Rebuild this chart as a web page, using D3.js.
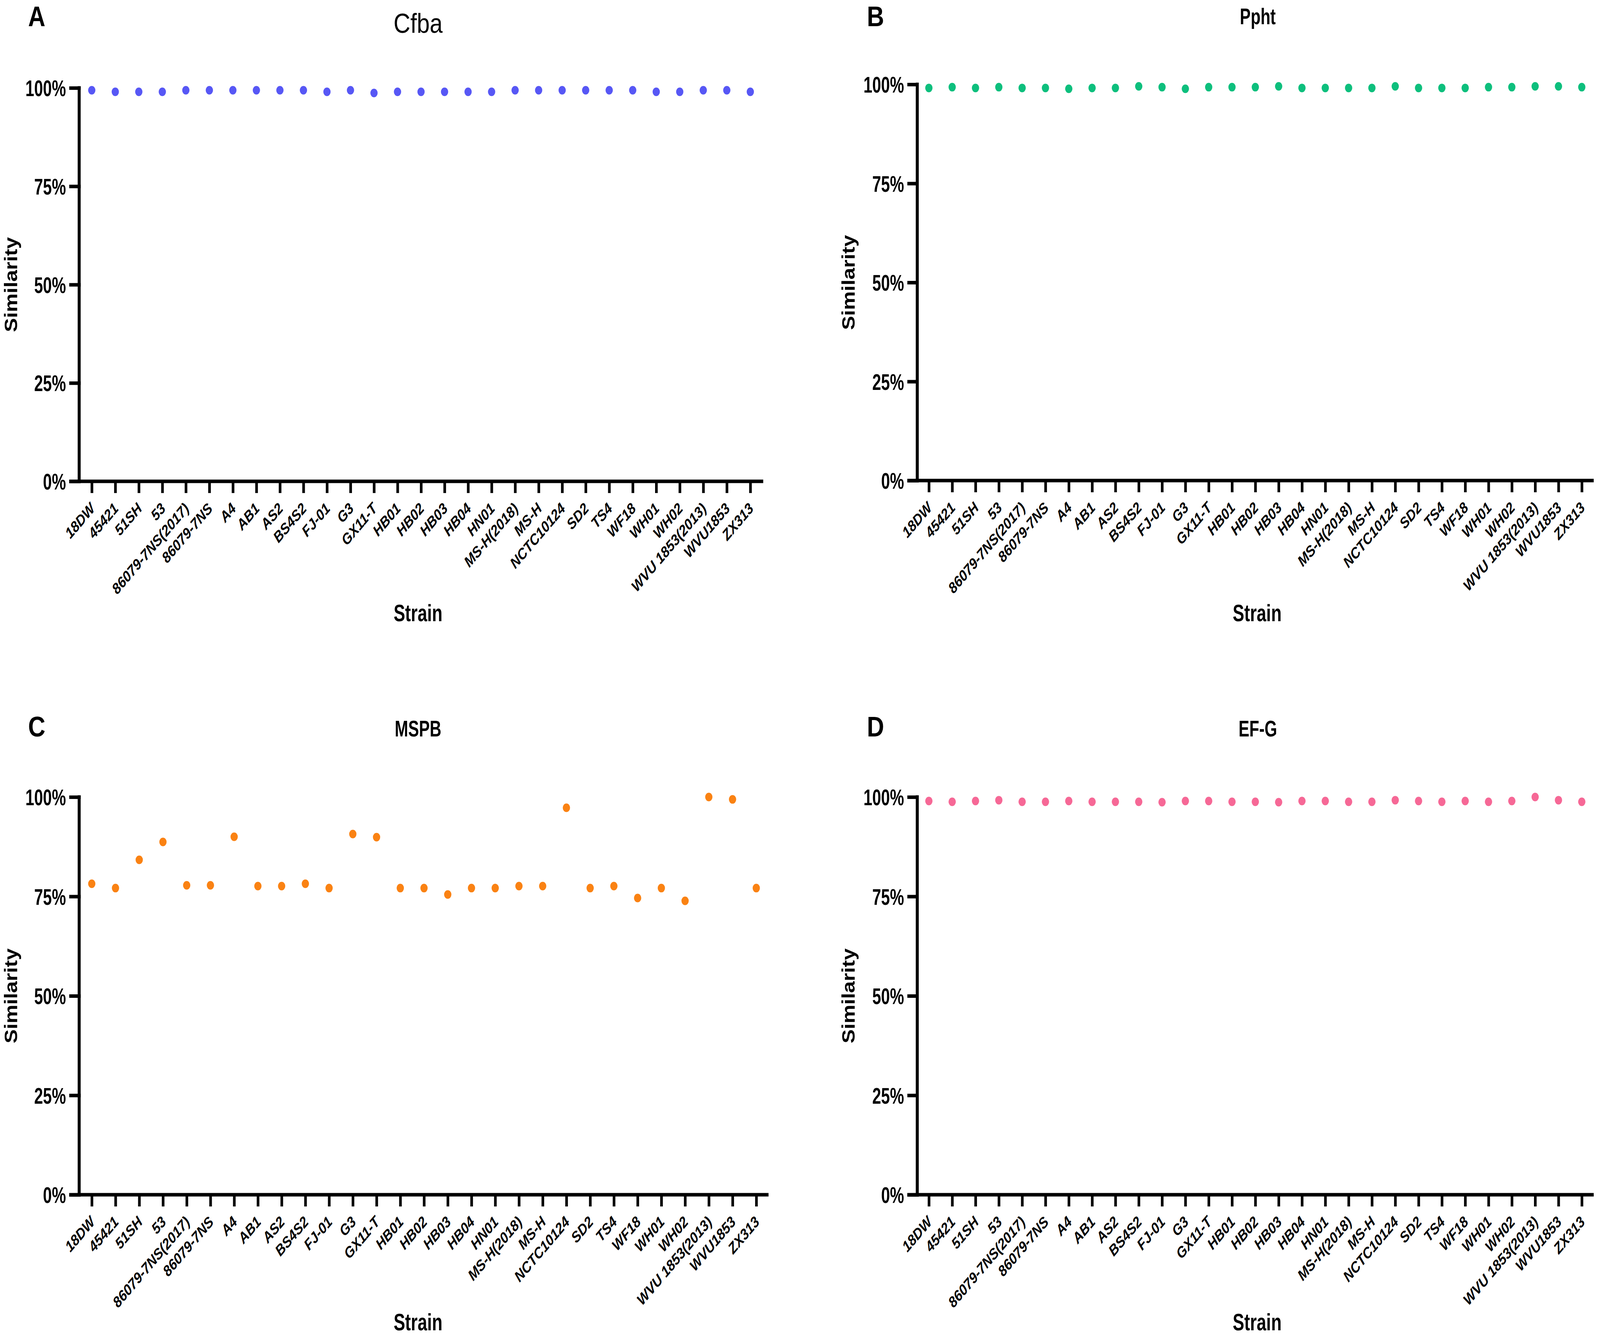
<!DOCTYPE html>
<html>
<head>
<meta charset="utf-8">
<script src="https://cdn.jsdelivr.net/npm/d3@7"></script>
<style>
  html, body { margin: 0; padding: 0; background: #fff; overflow: hidden; width: 100%; height: 100%; }
  svg { display: block; width: 100vw; height: 100vh; }
</style>
</head>
<body>
<svg id="fig" viewBox="0 0 4830 3417" preserveAspectRatio="none"></svg>
<script>
// ---------------- DATA ----------------
const strains = ["18DW","45421","51SH","53","86079-7NS(2017)","86079-7NS","A4","AB1","AS2","BS4S2",
  "FJ-01","G3","GX11-T","HB01","HB02","HB03","HB04","HN01","MS-H(2018)","MS-H","NCTC10124",
  "SD2","TS4","WF18","WH01","WH02","WVU 1853(2013)","WVU1853","ZX313"];

const cfbaValues = [99.4,99.0,99.0,99.0,99.4,99.4,99.4,99.4,99.4,99.4,
  99.0,99.4,98.7,99.0,99.0,99.0,99.0,99.0,99.4,99.4,99.4,
  99.4,99.4,99.4,99.0,99.0,99.4,99.4,99.0];

const pphtValues = [99.1,99.3,99.1,99.3,99.1,99.1,98.9,99.1,99.1,99.5,
  99.3,98.9,99.3,99.3,99.3,99.5,99.1,99.1,99.1,99.1,99.5,
  99.1,99.1,99.1,99.3,99.3,99.5,99.5,99.3];

const mspbValues = [78.2,77.1,84.2,88.7,77.8,77.8,90.0,77.6,77.6,78.2,
  77.1,90.7,89.9,77.1,77.1,75.5,77.1,77.1,77.6,77.6,97.3,
  77.1,77.6,74.6,77.1,73.9,100.0,99.4,77.1];

const efgValues = [99.0,98.8,99.0,99.2,98.8,98.8,99.0,98.8,98.8,98.8,
  98.7,99.0,99.0,98.8,98.8,98.7,99.0,99.0,98.8,98.8,99.2,
  99.0,98.8,99.0,98.8,99.0,100.0,99.2,98.8];

const yTickValues = [0, 25, 50, 75, 100];
const panelLetters = ["A","B","C","D"];
const panelTitles = ["Cfba","Ppht","MSPB","EF-G"];
const xAxisTitle = "Strain";
const yAxisTitle = "Similarity";

// ---------------- LAYOUT / STYLE ----------------
const panels = [
  {letter: panelLetters[0], title: panelTitles[0], values: cfbaValues, color: "#5757F5", titleBold: false,
   x0: 239, x1: 2304, yTop: 225, yBot: 1232, first: 277, last: 2265,
   lx: 85, ly: 67, tx: 1262, ty: 84, sx: 1262, sy: 1590, simX: 52},
  {letter: panelLetters[1], title: panelTitles[1], values: pphtValues, color: "#0DBF7D", titleBold: true,
   x0: 2769, x1: 4811, yTop: 216, yBot: 1230, first: 2804, last: 4775,
   lx: 2617, ly: 67, tx: 3797, ty: 62, sx: 3795, sy: 1590, simX: 2580},
  {letter: panelLetters[2], title: panelTitles[2], values: mspbValues, color: "#FA8213", titleBold: true,
   x0: 239, x1: 2320, yTop: 2040, yBot: 3058, first: 277, last: 2283,
   lx: 85, ly: 1885, tx: 1262, ty: 1885, sx: 1262, sy: 3405, simX: 52},
  {letter: panelLetters[3], title: panelTitles[3], values: efgValues, color: "#F66896", titleBold: true,
   x0: 2769, x1: 4811, yTop: 2040, yBot: 3058, first: 2804, last: 4775,
   lx: 2617, ly: 1885, tx: 3797, ty: 1885, sx: 3795, sy: 3405, simX: 2580}
];

const LW = 9;          // axis line width
const TICK = 30;       // tick length
const NX = 0.84;       // horizontal squeeze for condensed labels
const SANS = "'Liberation Sans', Arial, Helvetica, sans-serif";

const svg = d3.select("#fig");
svg.append("rect").attr("width", 4830).attr("height", 3417).attr("fill", "#fff");

panels.forEach(p => {
  const g = svg.append("g");
  const x = d3.scalePoint().domain(strains).range([p.first, p.last]);
  const y = d3.scaleLinear().domain([0, 100]).range([p.yBot, p.yTop]);

  // Y axis
  const yAxis = d3.axisLeft(y).tickValues(yTickValues).tickFormat(d => d + "%")
    .tickSize(TICK).tickSizeOuter(0).tickPadding(10);
  const yg = g.append("g").attr("transform", `translate(${p.x0},0)`).call(yAxis);
  yg.select(".domain").remove();
  yg.selectAll(".tick line").attr("stroke", "#000").attr("stroke-width", LW).attr("x1", LW/2);
  yg.selectAll(".tick text")
    .attr("font-family", SANS).attr("font-weight", "bold").attr("font-size", 57)
    .attr("fill", "#000").attr("dy", "0.36em")
    .attr("x", -(TICK + 10) / NX)
    .attr("transform", `scale(${NX},1)`);
  g.append("line")
    .attr("x1", p.x0).attr("x2", p.x0)
    .attr("y1", y(100) - LW/2).attr("y2", y(0))
    .attr("stroke", "#000").attr("stroke-width", LW);

  // X axis
  const xAxis = d3.axisBottom(x).tickSize(TICK).tickSizeOuter(0).tickFormat("");
  const xg = g.append("g").attr("transform", `translate(0,${p.yBot})`).call(xAxis);
  xg.select(".domain").remove();
  xg.selectAll(".tick line").attr("stroke", "#000").attr("stroke-width", LW - 1).attr("y1", 0);
  g.append("line")
    .attr("x1", p.x0 - TICK).attr("x2", p.x1)
    .attr("y1", p.yBot).attr("y2", p.yBot)
    .attr("stroke", "#000").attr("stroke-width", LW);

  // x tick labels, rotated
  g.append("g").selectAll("text").data(strains).join("text")
    .attr("transform", d => `translate(${x(d) + 12},${p.yBot + 72}) rotate(-45)`)
    .attr("text-anchor", "end")
    .attr("font-family", SANS).attr("font-weight", "bold").attr("font-style", "italic")
    .attr("font-size", 39).attr("fill", "#000")
    .text(d => d);

  // points
  g.append("g").selectAll("circle").data(strains).join("circle")
    .attr("cx", d => x(d))
    .attr("cy", (d, i) => y(p.values[i]))
    .attr("r", 11)
    .attr("fill", p.color);

  // panel letter
  g.append("text").attr("x", p.lx).attr("y", p.ly)
    .attr("font-family", SANS).attr("font-weight", "bold").attr("font-size", 72)
    .text(p.letter);

  // title
  if (p.titleBold) {
    g.append("text").attr("transform", `translate(${p.tx},${p.ty}) scale(${NX},1)`)
      .attr("text-anchor", "middle")
      .attr("font-family", SANS).attr("font-weight", "bold").attr("font-size", 58)
      .text(p.title);
  } else {
    g.append("text").attr("x", p.tx).attr("y", p.ty).attr("text-anchor", "middle")
      .attr("font-family", SANS).attr("font-weight", "normal").attr("font-size", 70)
      .text(p.title);
  }

  // axis titles
  g.append("text").attr("transform", `translate(${p.sx},${p.sy}) scale(${NX},1)`)
    .attr("text-anchor", "middle")
    .attr("font-family", SANS).attr("font-weight", "bold").attr("font-size", 62)
    .text(xAxisTitle);
  g.append("text")
    .attr("transform", `translate(${p.simX},${(p.yTop + p.yBot) / 2}) rotate(-90)`)
    .attr("text-anchor", "middle")
    .attr("font-family", SANS).attr("font-weight", "bold").attr("font-size", 54)
    .text(yAxisTitle);
});
</script>
</body>
</html>
